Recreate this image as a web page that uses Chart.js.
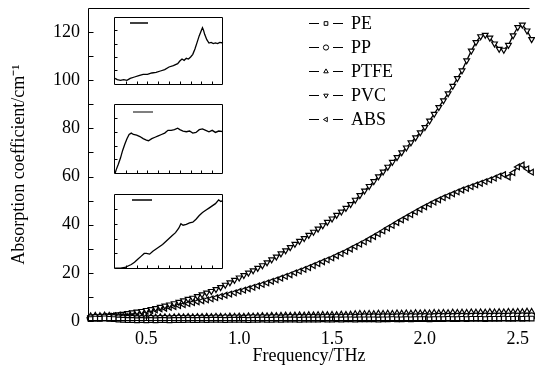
<!DOCTYPE html>
<html><head><meta charset="utf-8">
<script src="https://cdn.jsdelivr.net/npm/chart.js@4/dist/chart.umd.min.js"></script>
<style>
html,body{margin:0;padding:0;background:#fff;overflow:hidden;width:535px;height:379px;}
#wrap{position:relative;width:535px;height:379px;}
canvas{position:absolute;display:block;}
</style></head><body>
<div id="wrap">
<canvas id="main" width="535" height="379" style="left:0;top:0;width:535px;height:379px"></canvas>
<canvas id="in1" width="112" height="72" style="left:112px;top:15px;width:112px;height:72px"></canvas>
<canvas id="in2" width="112" height="74" style="left:112px;top:102px;width:112px;height:74px"></canvas>
<canvas id="in3" width="112" height="79" style="left:112px;top:192px;width:112px;height:79px"></canvas>
</div>
<script>
// ---------- data ----------
const freq = [0.2,0.225,0.25,0.275,0.3,0.325,0.35,0.375,0.4,0.425,0.45,0.475,0.5,0.525,0.55,0.575,0.6,0.625,0.65,0.675,0.7,0.725,0.75,0.775,0.8,0.825,0.85,0.875,0.9,0.925,0.95,0.975,1.0,1.025,1.05,1.075,1.1,1.125,1.15,1.175,1.2,1.225,1.25,1.275,1.3,1.325,1.35,1.375,1.4,1.425,1.45,1.475,1.5,1.525,1.55,1.575,1.6,1.625,1.65,1.675,1.7,1.725,1.75,1.775,1.8,1.825,1.85,1.875,1.9,1.925,1.95,1.975,2.0,2.025,2.05,2.075,2.1,2.125,2.15,2.175,2.2,2.225,2.25,2.275,2.3,2.325,2.35,2.375,2.4,2.425,2.45,2.475,2.5,2.525,2.55,2.575];
const PE = [0.8,1.0,0.9,1.1, 0.9,0.8,0.6,0.5, 0.4,0.4,0.3,0.4, 0.3,0.4,0.3,0.4, 0.4,0.3,0.4,0.4, 0.4,0.5,0.4,0.4, 0.5,0.4,0.5,0.5, 0.5,0.4,0.5,0.5, 0.5,0.5,0.4,0.5, 0.5,0.6,0.5,0.5, 0.6,0.5,0.6,0.6, 0.6,0.5,0.6,0.6, 0.6,0.6,0.7,0.6, 0.6,0.7,0.6,0.7, 0.7,0.6,0.7,0.7, 0.7,0.7,0.6,0.7, 0.7,0.8,0.7,0.7, 0.8,0.7,0.8,0.8, 0.8,0.7,0.8,0.8, 0.8,0.9,0.8,0.8, 0.9,0.8,0.9,0.9, 0.9,0.8,0.9,0.9, 0.9,1.0,0.9,0.9, 1.0,0.9,1.0,1.0];
const PP = [1.2,1.4,1.3,1.5, 1.4,1.3,1.2,1.1, 1.0,1.0,0.9,0.9, 0.9,1.0,0.9,1.0, 1.0,0.9,1.0,1.1, 1.0,1.1,1.0,1.1, 1.1,1.0,1.1,1.2, 1.1,1.2,1.1,1.2, 1.2,1.1,1.2,1.3, 1.2,1.3,1.2,1.3, 1.3,1.2,1.3,1.4, 1.3,1.4,1.3,1.4, 1.4,1.3,1.4,1.5, 1.4,1.5,1.4,1.5, 1.5,1.4,1.5,1.6, 1.5,1.6,1.5,1.6, 1.6,1.5,1.6,1.7, 1.6,1.7,1.6,1.7, 1.7,1.6,1.7,1.8, 1.7,1.8,1.7,1.8, 1.8,1.7,1.8,1.9, 1.8,1.9,1.8,1.9, 1.9,1.8,1.9,2.0, 1.9,2.0,1.9,2.0];
const PTFE = [2.0,2.2,2.1,2.3, 2.2,2.0,1.9,1.8, 1.7,1.6,1.6,1.5, 1.5,1.6,1.5,1.6, 1.6,1.5,1.6,1.7, 1.6,1.7,1.6,1.7, 1.7,1.8,1.7,1.8, 1.8,1.7,1.9,1.8, 1.9,1.8,2.0,1.9, 2.0,2.1,2.0,2.2, 2.1,2.2,2.3,2.2, 2.3,2.4,2.3,2.5, 2.4,2.5,2.6,2.5, 2.6,2.5,2.7,2.6, 2.7,2.9,3.0,2.9, 3.0,2.9,3.1,3.0, 3.1,3.0,3.2,3.1, 3.2,3.1,3.3,3.2, 3.3,3.2,3.4,3.3, 3.4,3.3,3.5,3.4, 3.5,3.4,3.6,3.5, 3.6,3.5,3.7,3.6, 3.7,3.6,3.8,3.7, 3.8,3.7,3.9,3.8];
const PVC = [1.5,1.7,1.8,2.0, 2.2,2.4,2.7,2.9, 3.2,3.5,3.8,4.1, 4.5,4.9,5.3,5.8, 6.3,6.8,7.3,7.9, 8.5,9.1,9.6,10.3, 11.0,11.7,12.4,13.2, 14.0,15.0,16.0,17.0, 18.0,19.0,20.0,21.0, 22.0,23.1,24.3,25.5, 26.7,28.0,29.3,30.6, 32.0,33.2,34.4,35.7, 37.0,38.3,39.7,41.1, 42.5,44.0,45.4,46.9, 48.5,50.3,52.2,54.1, 56.0,58.0,60.0,62.0, 64.0,66.0,68.0,70.0, 72.0,74.1,76.2,78.3, 80.5,83.2,86.0,88.8, 91.6,94.5,97.6,100.8, 104.0,108.2,112.2,115.8, 118.2,118.8,117.6,115.2, 113.0,112.6,114.6,118.6, 122.0,123.0,120.6,117.0];
const ABS = [1.3,1.4,1.6,1.8, 2.0,2.2,2.4,2.6, 2.9,3.1,3.4,3.7, 4.0,4.3,4.6,5.0, 5.3,5.7,6.0,6.4, 6.8,7.2,7.6,8.0, 8.4,8.8,9.2,9.7, 10.2,10.7,11.2,11.7, 12.3,12.8,13.4,14.0, 14.6,15.2,15.8,16.5, 17.1,17.8,18.5,19.2, 20.0,20.7,21.4,22.2, 23.0,23.8,24.6,25.4, 26.2,27.1,28.0,28.9, 29.9,30.9,31.9,32.9, 34.0,35.1,36.2,37.4, 38.6,39.7,40.9,42.0, 43.1,44.2,45.3,46.4, 47.4,48.4,49.4,50.3, 51.2,52.0,52.8,53.6, 54.4,55.1,55.8,56.5, 57.2,57.9,58.6,59.3, 60.2,60.8,59.8,61.6, 64.0,64.8,63.2,61.8];
const seriesNames = ['PE','PP','PTFE','PVC','ABS'];
const xTickValues = [0.5,1.0,1.5,2.0,2.5];
const yTickValues = [0,20,40,60,80,100,120];
const yMinorTicks = [10,30,50,70,90,110];

// insets (normalised units)
const in1X = [0,0.02,0.05,0.08,0.11,0.14,0.18,0.22,0.26,0.30,0.34,0.38,0.42,0.46,0.50,0.54,0.58,0.60,0.62,0.64,0.66,0.68,0.70,0.72,0.74,0.76,0.78,0.80,0.81,0.82,0.83,0.85,0.87,0.89,0.91,0.93,0.95,0.97,1.0];
const in1Y = [0.08,0.06,0.05,0.06,0.05,0.08,0.10,0.12,0.14,0.14,0.16,0.17,0.19,0.21,0.25,0.27,0.30,0.34,0.37,0.35,0.38,0.37,0.40,0.44,0.52,0.62,0.72,0.80,0.84,0.80,0.74,0.66,0.61,0.62,0.60,0.61,0.60,0.62,0.61];
const in2X = [0,0.01,0.03,0.05,0.07,0.09,0.11,0.13,0.15,0.17,0.20,0.23,0.26,0.29,0.31,0.34,0.37,0.40,0.43,0.46,0.49,0.52,0.55,0.58,0.60,0.63,0.66,0.69,0.72,0.75,0.78,0.81,0.84,0.87,0.90,0.93,0.96,1.0];
const in2Y = [0.00,0.05,0.13,0.22,0.33,0.42,0.50,0.56,0.58,0.56,0.55,0.53,0.50,0.48,0.47,0.50,0.52,0.54,0.56,0.58,0.62,0.62,0.63,0.65,0.63,0.61,0.60,0.61,0.58,0.59,0.63,0.64,0.62,0.60,0.62,0.59,0.61,0.60];
const in3X = [0,0.05,0.09,0.12,0.15,0.18,0.21,0.24,0.27,0.29,0.32,0.35,0.38,0.41,0.44,0.47,0.50,0.53,0.56,0.59,0.61,0.63,0.66,0.69,0.72,0.75,0.78,0.81,0.84,0.87,0.90,0.93,0.96,0.98,1.0];
const in3Y = [0.00,0.00,0.01,0.03,0.05,0.08,0.12,0.16,0.20,0.20,0.19,0.23,0.26,0.29,0.32,0.36,0.40,0.44,0.48,0.54,0.60,0.58,0.59,0.61,0.62,0.66,0.71,0.75,0.78,0.81,0.84,0.87,0.92,0.90,0.91];
const insetTicksX = [0.1,0.2,0.3,0.4,0.5,0.6,0.7,0.8,0.9];
const insetTicksY = [0.2,0.4,0.6,0.8];

// ---------- drawing helpers ----------
const FONT = '"Liberation Serif","Times New Roman",serif';
function drawMarker(ctx, style, rot, x, y, r){
  ctx.save(); ctx.fillStyle='#fff'; ctx.strokeStyle='#000'; ctx.lineWidth=1;
  if (Chart.helpers && Chart.helpers.drawPoint){
    Chart.helpers.drawPoint(ctx,{pointStyle:style,rotation:rot,radius:r,borderWidth:1},x,y);
  } else { ctx.beginPath(); ctx.arc(x,y,r,0,Math.PI*2); ctx.fill(); ctx.stroke(); }
  ctx.restore();
}

const framePlugin = {
  id:'frame',
  afterDraw(chart, args, o){
    const {ctx, chartArea:a, scales} = chart;
    ctx.save(); ctx.strokeStyle='#000'; ctx.lineWidth=1;
    const L=Math.round(a.left)+0.5, T=Math.round(a.top)+0.5, B=Math.round(a.bottom)-0.5, R=Math.round(a.right)-0.5;
    ctx.beginPath();
    ctx.moveTo(R,T); ctx.lineTo(L,T); ctx.lineTo(L,B); ctx.lineTo(R,B);
    if (o.right){ ctx.lineTo(R,T); }
    (o.y||[]).forEach(v=>{ const y=Math.round(scales.y.getPixelForValue(v))+0.5; ctx.moveTo(L,y); ctx.lineTo(L+o.len,y); });
    (o.x||[]).forEach(v=>{ const x=Math.round(scales.x.getPixelForValue(v))+0.5; ctx.moveTo(x,B); ctx.lineTo(x,B-o.len); });
    ctx.stroke();
    if (o.sample){
      ctx.strokeStyle=o.sample.color; ctx.lineWidth=1.5; ctx.beginPath();
      ctx.moveTo(a.left+o.sample.x0, a.top+o.sample.y); ctx.lineTo(a.left+o.sample.x1, a.top+o.sample.y); ctx.stroke();
    }
    ctx.restore();
  }
};

const legendPlugin = {
  id:'myLegend',
  afterDraw(chart, args, o){
    if(!o.show) return;
    const ctx = chart.ctx;
    ctx.save();
    ctx.font = '18px '+FONT; ctx.fillStyle='#000'; ctx.textBaseline='middle'; ctx.textAlign='left';
    chart.data.datasets.forEach((ds,i)=>{
      const y = 23 + i*24;
      ctx.strokeStyle='#000'; ctx.lineWidth=1.2; ctx.beginPath();
      ctx.moveTo(309,y+0.5); ctx.lineTo(319,y+0.5); ctx.moveTo(333,y+0.5); ctx.lineTo(343,y+0.5); ctx.stroke();
      drawMarker(ctx, ds.pointStyle, ds.pointRotation||0, 326, y+0.5, 2.6);
      ctx.fillText(ds.label, 351, y+1);
    });
    ctx.restore();
  }
};

// ---------- main chart ----------
const styles = {PE:['rect',0], PP:['circle',0], PTFE:['triangle',0], PVC:['triangle',180], ABS:['triangle',-90]};
const seriesData = {PE, PP, PTFE, PVC, ABS};
const datasets = seriesNames.map(n=>({
  label:n,
  data: freq.map((f,i)=>({x:f, y:seriesData[n][i]})),
  borderColor:'#000', borderWidth:1.3,
  pointStyle:styles[n][0], pointRotation:styles[n][1],
  pointRadius:3.3, pointBorderWidth:1.2, pointBackgroundColor:'#fff', pointBorderColor:'#000',
  tension:0, clip:false, fill:false
}));

Chart.defaults.font.family = FONT;
Chart.defaults.color = '#000';

new Chart(document.getElementById('main'), {
  type:'line',
  data:{datasets},
  plugins:[framePlugin, legendPlugin],
  options:{
    responsive:false, animation:false, devicePixelRatio:1,
    layout:{padding:{top:8,left:0,right:0,bottom:0}},
    plugins:{legend:{display:false}, tooltip:{enabled:false},
      frame:{len:5, y:[...yTickValues,...yMinorTicks], x:xTickValues},
      myLegend:{show:true}},
    scales:{
      x:{type:'linear', min:0.186, max:2.565,
        grid:{display:false, drawTicks:false}, border:{display:false},
        afterBuildTicks:s=>{ s.ticks = xTickValues.map(v=>({value:v})); },
        afterFit:s=>{ s.height = 58; s.paddingLeft = 0; s.paddingRight = 0; },
        ticks:{font:{size:18}, padding:7, maxRotation:0, autoSkip:false, callback:v=>Number(v).toFixed(1)},
        title:{display:true, text:'Frequency/THz', font:{size:18}, padding:{top:0,bottom:12}}
      },
      y:{type:'linear', min:0, max:130,
        grid:{display:false, drawTicks:false}, border:{display:false},
        afterBuildTicks:s=>{ s.ticks = yTickValues.map(v=>({value:v})); },
        afterFit:s=>{ s.width = 88; s.paddingTop = 0; s.paddingBottom = 0; },
        ticks:{font:{size:18}, padding:8, autoSkip:false, callback:v=>String(v)},
        title:{display:true, text:'Absorption coefficient/cm\u207B\u00B9', font:{size:18}, padding:{top:8,bottom:0}}
      }
    }
  }
});

// ---------- insets ----------
function inset(id, xs, ys, sample, ymin, ymax){
  new Chart(document.getElementById(id), {
    type:'line',
    data:{datasets:[{data:xs.map((x,i)=>({x, y:ys[i]})), borderColor:'#000', borderWidth:1.3, pointRadius:0, tension:0, clip:false}]},
    plugins:[framePlugin],
    options:{
      responsive:false, animation:false, devicePixelRatio:1,
      layout:{padding:{left:2,top:2,right:1,bottom:2}},
      plugins:{legend:{display:false}, tooltip:{enabled:false},
        frame:{len:3, right:true, x:insetTicksX, y:insetTicksY, sample}},
      scales:{
        x:{type:'linear', min:-0.01, max:1.0, display:false},
        y:{type:'linear', min:ymin, max:ymax, display:false}
      }
    }
  });
}
inset('in1', in1X, in1Y, {x0:16,x1:34,y:6,color:'#000'}, -0.02, 1.0);
inset('in2', in2X, in2Y, {x0:19,x1:39,y:8,color:'#555'}, -0.01, 1.0);
inset('in3', in3X, in3Y, {x0:18,x1:38,y:6,color:'#000'}, -0.01, 1.0);
</script>
</body></html>
